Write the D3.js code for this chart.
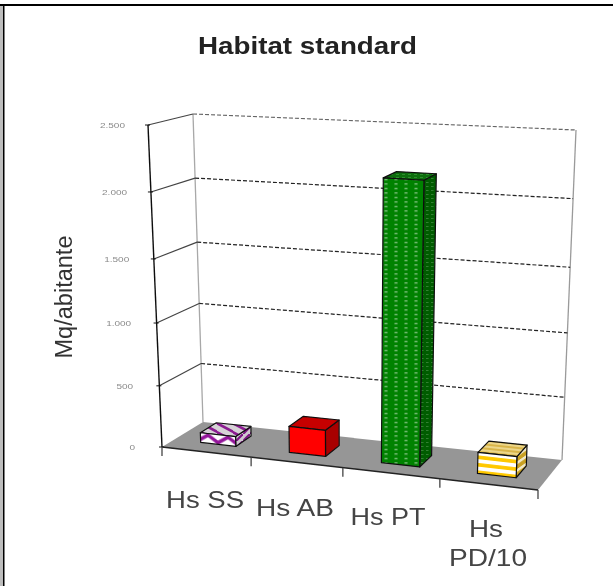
<!DOCTYPE html>
<html><head><meta charset="utf-8">
<script src="https://cdn.jsdelivr.net/npm/d3@7"></script>
<style>html,body{margin:0;padding:0;background:#fff}svg{display:block}text{font-family:"Liberation Sans",Arial,sans-serif}</style>
</head><body><svg id="c" width="613" height="586"></svg>
<script>
const categories = [["Hs SS"],["Hs AB"],["Hs PT"],["Hs","PD/10"]];
const values = [80, 210, 2170, 165];
const tickValues = [0,500,1000,1500,2000,2500];
const tickLabels = ["0","500","1.000","1.500","2.000","2.500"];
const title = "Habitat standard";
const yTitle = "Mq/abitante";

const W=613,H=586;
const svg=d3.select("#c");
const defs=svg.append("defs");
defs.append("filter").attr("id","soft")
  .attr("filterUnits","userSpaceOnUse").attr("x",0).attr("y",0).attr("width",W).attr("height",H)
  .append("feGaussianBlur").attr("stdDeviation",0.6);

// projection: box corners on screen, perspective warped by measured scales
const fl=[162,447],fr=[538,490],bl=[203,422],br=[562,460];
const flT=[148,125],frT=[552,146],blT=[193,114],brT=[576,130];
const lerp=(a,b,t)=>[a[0]+(b[0]-a[0])*t,a[1]+(b[1]-a[1])*t];
const hScale=d3.scaleLinear().domain(tickValues).range([0,.19,.385,.584,.792,1]);
const uScale=d3.scaleLinear().domain([0,.25,.5,.75,1]).range([0,.237,.481,.739,1]);
const catU=d3.scaleBand().domain(d3.range(categories.length)).range([0,1]);
function P(u0,d,v){
  const u=uScale(u0);
  const bot=lerp(lerp(fl,fr,u),lerp(bl,br,u),d);
  const top=lerp(lerp(flT,frT,u),lerp(blT,brT,u),d);
  return lerp(bot,top,hScale(v));
}
const line=d3.line();
const g=svg.append("g").attr("filter","url(#soft)");

function pattern(id,w,h,bg,draw,tf){
  const p=defs.append("pattern").attr("id",id).attr("patternUnits","userSpaceOnUse").attr("width",w).attr("height",h);
  if(tf)p.attr("patternTransform",tf);
  p.append("rect").attr("width",w).attr("height",h).attr("fill",bg);
  draw(p);
}
// purple chevrons
pattern("ssF",20,16,"#fff",p=>{p.append("path").attr("d","M-2,11 L10,3 L22,11 M-2,27 L10,19 L22,27 M-2,-5 L10,-13 L22,-5").attr("fill","none").attr("stroke","#93149a").attr("stroke-width",3.4);},"translate(198,431) skewY(6)");
pattern("ssT",16,9,"#d6d2d6",p=>{p.append("path").attr("d","M-4,-2 L20,11 M-4,-11 L20,2 M-4,7 L20,20").attr("fill","none").attr("stroke","#8a1a90").attr("stroke-width",2.6);},"translate(201,423)");
pattern("ssS",7,7,"#cfc8cf",p=>{p.append("path").attr("d","M-2,9 L9,-2").attr("stroke","#7d1484").attr("stroke-width",2.2);},"translate(236,427)");
// green dashes
pattern("ptF",10,4.5,"#068206",p=>{p.append("rect").attr("x",3.5).attr("y",2).attr("width",3).attr("height",1).attr("fill","#c8e8c8").attr("opacity",.8);},"translate(381,177)");
pattern("ptS",5,4,"#005c00",p=>{p.append("rect").attr("x",1).attr("y",1).attr("width",2.5).attr("height",.9).attr("fill","#5f9f5f").attr("opacity",.6);},"translate(420,177)");
pattern("ptT",6,3,"#0a6e0a",p=>{p.append("rect").attr("width",3).attr("height",1).attr("fill","#2f8f2f");});
// yellow stripes
const stripe=(col,w)=>p=>{p.append("rect").attr("width",40).attr("height",w).attr("fill",col);};
pattern("pdF",40,7.5,"#ffc800",stripe("#fff",3.8),"translate(477,459) skewY(6.5)");
pattern("pdS",40,7.5,"#c8a020",stripe("#f0e8c8",3),"translate(517,454) skewY(-35)");
pattern("pdT",40,4,"#d9b54a",stripe("#ecd68a",2),"translate(480,441) skewY(6)");

// floor
g.append("path").attr("d",line([fl,fr,br,bl])+"Z").attr("fill","#969696");

// wall edges
const edge=(pts,col,w,dash)=>g.append("path").attr("d",line(pts)).attr("fill","none").attr("stroke",col).attr("stroke-width",w).attr("stroke-dasharray",dash||null);
edge([P(0,1,0),P(0,1,2500)],"#a8a8a8",1.3);
edge([P(1,1,0),P(1,1,2500)],"#9a9a9a",1.3);

// gridlines
tickValues.forEach(v=>{
  if(v>0){
    edge([P(0,1,v),P(1,1,v)],v===2500?"#666":"#222",1.2,"4 2");
    edge([P(0,0,v),P(0,1,v)],"#444",1.2);
  }
});
// front axis and ticks
edge([P(0,0,0),P(0,0,2500)],"#111",1.4);
const labelGap=d3.scaleLinear().domain([0,2500]).range([27,23]);
tickValues.forEach((v,i)=>{
  const p=P(0,0,v);
  edge([[p[0]-3,p[1]],[p[0]+2,p[1]]],"#111",1);
  const t=g.append("text").attr("x",p[0]-labelGap(v)).attr("y",p[1]+3).attr("text-anchor","end")
    .attr("font-size",8).attr("fill","#8a8a8a").text(tickLabels[i]);
  t.attr("textLength",t.node().getComputedTextLength()*1.25).attr("lengthAdjust","spacingAndGlyphs");
});
// category axis
edge([fl,fr],"#222",1.5);
d3.range(categories.length+1).forEach(i=>{
  const p=P(i/categories.length,0,0);
  edge([p,[p[0],p[1]+9]],"#444",1.3);
});

// bars
const fills=[["ssF","ssS","ssT"],["#ff0000","#a80000","#c60000"],["ptF","ptS","ptT"],["pdF","pdS","pdT"]];
const paint=f=>f[0]==="#"?f:`url(#${f})`;
const halfW=.05,d0=.3,d1=.7;
values.forEach((v,i)=>{
  const c=catU(i)+catU.bandwidth()/2,a=c-halfW,b=c+halfW;
  const face=(pts,f)=>g.append("path").attr("d",line(pts)+"Z").attr("fill",paint(f)).attr("stroke","#111").attr("stroke-width",1.2).attr("stroke-linejoin","round");
  face([P(b,d0,0),P(b,d1,0),P(b,d1,v),P(b,d0,v)],fills[i][1]);
  face([P(a,d0,v),P(b,d0,v),P(b,d1,v),P(a,d1,v)],fills[i][2]);
  face([P(a,d0,0),P(b,d0,0),P(b,d0,v),P(a,d0,v)],fills[i][0]);
});

// category labels: stretched as in the resampled picture
const labelLayout=[[[205,508,78]],[[295,516,78]],[[388,525,75]],[[486,537,34],[488,566,78]]];
categories.forEach((lines,i)=>{
  lines.forEach((s,j)=>{
    const [x,y,len]=labelLayout[i][j];
    g.append("text").attr("text-anchor","middle").attr("font-size",24).attr("fill","#444")
      .attr("x",x).attr("y",y).attr("textLength",len).attr("lengthAdjust","spacingAndGlyphs").text(s);
  });
});
// titles
g.append("text").attr("x",307.5).attr("y",54).attr("text-anchor","middle").attr("font-size",23)
  .attr("font-weight","bold").attr("fill","#222").attr("textLength",219).attr("lengthAdjust","spacingAndGlyphs").text(title);
g.append("text").attr("transform","translate(72,297) rotate(-90)").attr("text-anchor","middle").attr("font-size",23)
  .attr("fill","#333").attr("textLength",123).attr("lengthAdjust","spacingAndGlyphs").text(yTitle);

// frame
svg.append("rect").attr("x",0).attr("y",6).attr("width",3).attr("height",H-6).attr("fill","#bdbdbd");
svg.append("rect").attr("x",3).attr("y",6).attr("width",1.5).attr("height",H-6).attr("fill","#000");
svg.append("rect").attr("x",0).attr("y",4).attr("width",W).attr("height",2).attr("fill","#000");
</script></body></html>
